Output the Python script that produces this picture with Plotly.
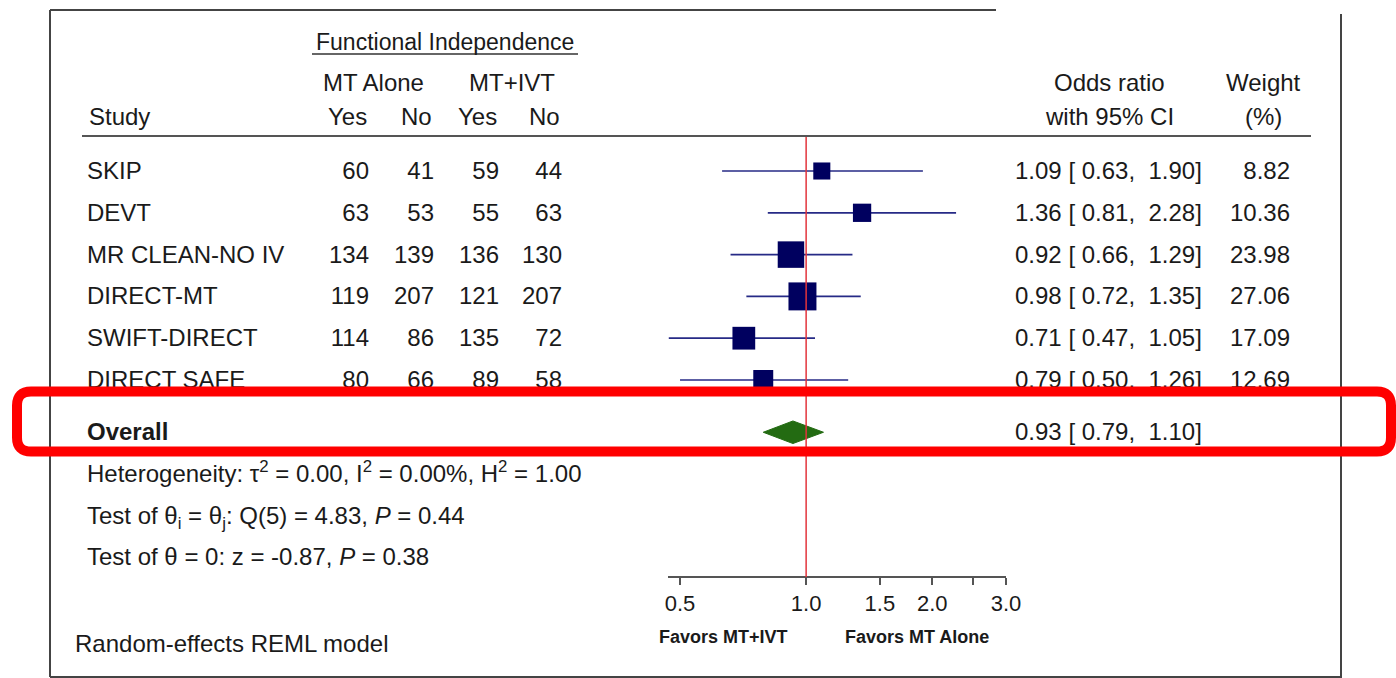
import math
import plotly.graph_objects as go

# ---- data -------------------------------------------------------------
studies = ["SKIP", "DEVT", "MR CLEAN-NO IV", "DIRECT-MT", "SWIFT-DIRECT", "DIRECT SAFE"]
mt_yes = [60, 63, 134, 119, 114, 80]
mt_no = [41, 53, 139, 207, 86, 66]
ivt_yes = [59, 55, 136, 121, 135, 89]
ivt_no = [44, 63, 130, 207, 72, 58]
odds = [1.09, 1.36, 0.92, 0.98, 0.71, 0.79]
ci_lo = [0.63, 0.81, 0.66, 0.72, 0.47, 0.50]
ci_hi = [1.90, 2.28, 1.29, 1.35, 1.05, 1.26]
weights = [8.82, 10.36, 23.98, 27.06, 17.09, 12.69]
overall_or, overall_lo, overall_hi = 0.93, 0.79, 1.10
tick_vals = [0.5, 1.0, 1.5, 2.0, 2.5, 3.0]
tick_text = ["0.5", "1.0", "1.5", "2.0", "", "3.0"]

# ---- geometry ---------------------------------------------------------
W, H = 1396, 678
ROW0, STEP = 171, 41.8          # pixel centre of first row, row pitch
TXT_DROP = 0.05                 # small baseline nudge for row text
FONT = "Liberation Sans, Arial, Helvetica, sans-serif"
INK = "#1a1a1a"
NB = "\u00a0"
FS = 24


def row_of(p):
    return (p - ROW0) / STEP


def py(p):
    return 1 - p / H


def pxp(p):
    return p / W


rows = list(range(len(studies)))
overall_row = 6.25

fig = go.Figure()

# confidence-interval whiskers
wx, wy = [], []
for lo, hi, r in zip(ci_lo, ci_hi, rows):
    wx += [lo, hi, None]
    wy += [r, r, None]
fig.add_trace(go.Scatter(x=wx, y=wy, mode="lines", xaxis="x", yaxis="y",
                         line=dict(color="#262a86", width=1.7),
                         hoverinfo="skip", showlegend=False))

# study squares, area proportional to weight
sizes = [2.5 + 4.9 * math.sqrt(w) for w in weights]
fig.add_trace(go.Scatter(x=odds, y=rows, mode="markers", xaxis="x", yaxis="y",
                         marker=dict(symbol="square", size=sizes, color="#00005f",
                                     opacity=1, line=dict(width=0)),
                         showlegend=False))

# pooled diamond
dh = 0.27
fig.add_trace(go.Scatter(
    x=[overall_lo, overall_or, overall_hi, overall_or, overall_lo],
    y=[overall_row, overall_row - dh, overall_row, overall_row + dh, overall_row],
    mode="lines", fill="toself", fillcolor="#236b12",
    line=dict(color="#236b12", width=1), xaxis="x", yaxis="y", showlegend=False))


def text_col(xpos, ys, labels, pos, bold=False, size=FS):
    fig.add_trace(go.Scatter(
        x=[xpos] * len(ys), y=[v + TXT_DROP for v in ys], text=labels, mode="text",
        textposition=pos, xaxis="x2", yaxis="y", cliponaxis=False,
        hoverinfo="skip", showlegend=False,
        textfont=dict(family=FONT, size=size, color=INK,
                      weight="bold" if bold else "normal")))


# table columns
text_col(87, rows, studies, "middle right")
text_col(369, rows, [str(v) for v in mt_yes], "middle left")
text_col(434, rows, [str(v) for v in mt_no], "middle left")
text_col(499, rows, [str(v) for v in ivt_yes], "middle left")
text_col(562, rows, [str(v) for v in ivt_no], "middle left")


def ci_label(o, lo, hi):
    return f"{o:.2f} [{NB}{lo:.2f},{NB}{NB}{hi:.2f}]"


text_col(1015, rows, [ci_label(o, l, h) for o, l, h in zip(odds, ci_lo, ci_hi)],
         "middle right")
text_col(1290, rows, [f"{w:.2f}" for w in weights], "middle left")
text_col(87, [overall_row], ["Overall"], "middle right", bold=True)
text_col(1015, [overall_row], [ci_label(overall_or, overall_lo, overall_hi)],
         "middle right")

footer = [
    "Heterogeneity: τ<sup>2</sup> = 0.00, I<sup>2</sup> = 0.00%, H<sup>2</sup> = 1.00",
    "Test of θ<sub>i</sub> = θ<sub>j</sub>: Q(5) = 4.83, <i>P</i> = 0.44",
    "Test of θ = 0: z = -0.87, <i>P</i> = 0.38",
]
text_col(87, [row_of(474), row_of(516), row_of(557)], footer, "middle right")
text_col(75, [row_of(644)], ["Random-effects REML model"], "middle right")

# ---- header / footer annotations -------------------------------------
ann = []


def add_ann(text, x, y, anchor="center", size=FS, bold=False):
    ann.append(dict(text=text, x=pxp(x), y=py(y), xref="paper", yref="paper",
                    xanchor=anchor, yanchor="middle", showarrow=False,
                    font=dict(family=FONT, size=size, color=INK,
                              weight="bold" if bold else "normal")))


add_ann("Functional Independence", 445, 42, size=23)
add_ann("MT Alone", 373, 82)
add_ann("MT+IVT", 512, 82)
add_ann("Study", 87, 117, anchor="left")
add_ann("Yes", 369, 117, anchor="right")
add_ann("No", 434, 117, anchor="right")
add_ann("Yes", 499, 117, anchor="right")
add_ann("No", 562, 117, anchor="right")
add_ann("Odds ratio", 1109, 82)
add_ann("with 95% CI", 1109, 117)
add_ann("Weight", 1263, 82)
add_ann("(%)", 1263, 117)
add_ann("Favors MT+IVT", 723, 637, size=18, bold=True)
add_ann("Favors MT Alone", 917, 637, size=18, bold=True)

# ---- rules, frame and highlight --------------------------------------
shapes = []


def hline(x0, x1, y, color="#444", width=2):
    shapes.append(dict(type="line", xref="paper", yref="paper", x0=pxp(x0), x1=pxp(x1),
                       y0=py(y), y1=py(y), line=dict(color=color, width=width),
                       layer="below"))


def vline(x, y0, y1, color="#444", width=2):
    shapes.append(dict(type="line", xref="paper", yref="paper", x0=pxp(x), x1=pxp(x),
                       y0=py(y0), y1=py(y1), line=dict(color=color, width=width),
                       layer="below"))


hline(50, 996, 10)
vline(50, 10, 677)
hline(50, 1342, 677)
vline(1341, 14, 677)
hline(82, 1311, 136, color="#555", width=2)
hline(312, 578, 54, color="#333", width=1.5)

# line of no effect
shapes.append(dict(type="line", xref="x", yref="paper", x0=1, x1=1,
                   y0=py(577), y1=py(137), line=dict(color="#e3343c", width=1.5),
                   layer="above"))

# rounded highlight box round the pooled estimate
bx0, bx1, by0, by1, rad = 17, 1391, 391.5, 451.5, 14
path = (f"M {pxp(bx0 + rad)},{py(by0)} L {pxp(bx1 - rad)},{py(by0)} "
        f"Q {pxp(bx1)},{py(by0)} {pxp(bx1)},{py(by0 + rad)} "
        f"L {pxp(bx1)},{py(by1 - rad)} Q {pxp(bx1)},{py(by1)} {pxp(bx1 - rad)},{py(by1)} "
        f"L {pxp(bx0 + rad)},{py(by1)} Q {pxp(bx0)},{py(by1)} {pxp(bx0)},{py(by1 - rad)} "
        f"L {pxp(bx0)},{py(by0 + rad)} Q {pxp(bx0)},{py(by0)} {pxp(bx0 + rad)},{py(by0)} Z")
shapes.append(dict(type="path", path=path, xref="paper", yref="paper",
                   line=dict(color="#ff0000", width=10), layer="above"))

fig.update_layout(
    width=W, height=H,
    margin=dict(l=0, r=0, t=0, b=0, pad=0, autoexpand=False),
    paper_bgcolor="white", plot_bgcolor="rgba(0,0,0,0)",
    showlegend=False,
    xaxis=dict(type="log", domain=[pxp(668), pxp(1006)],
               range=[math.log10(0.468), math.log10(3.0)],
               anchor="free", position=py(577), automargin=False,
               tickvals=tick_vals, ticktext=tick_text,
               ticks="outside", ticklen=7, tickwidth=1.5, tickcolor="#555",
               showline=True, linecolor="#555", linewidth=1.5,
               showgrid=False, zeroline=False,
               tickfont=dict(family=FONT, size=22, color=INK)),
    xaxis2=dict(domain=[0, 1], range=[0, W], visible=False, anchor="y",
                automargin=False),
    yaxis=dict(domain=[0, 1], range=[row_of(H), row_of(0)], visible=False,
               automargin=False),
    annotations=ann, shapes=shapes,
)

fig.write_html("out.html")
